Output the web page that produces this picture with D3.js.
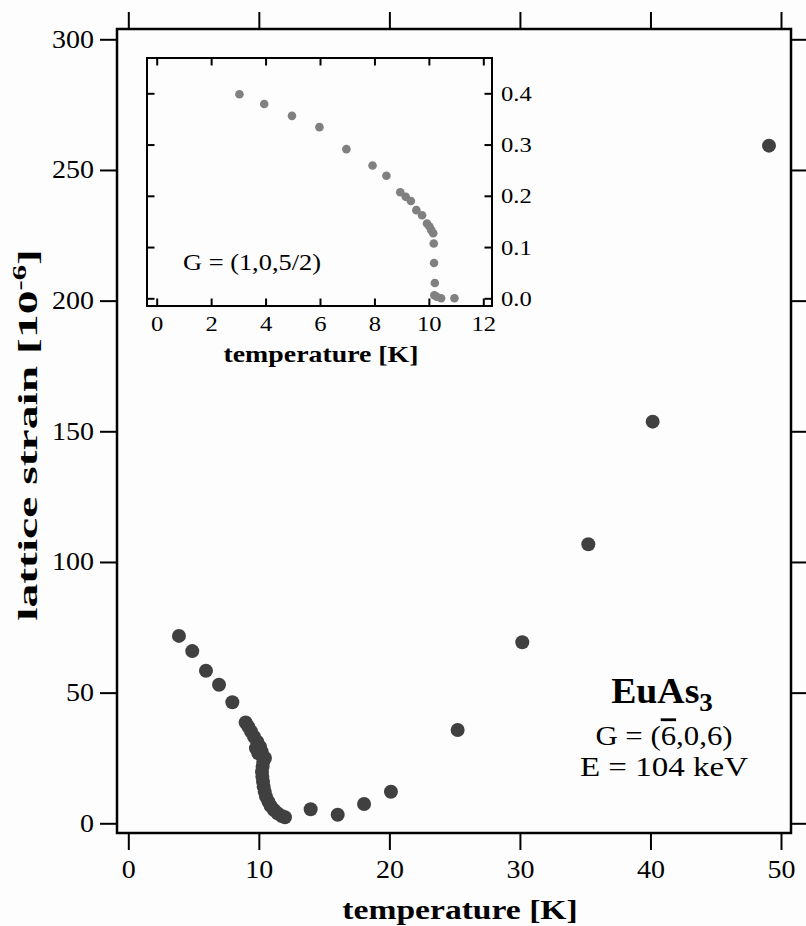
<!DOCTYPE html>
<html>
<head>
<meta charset="utf-8">
<script src="https://cdn.jsdelivr.net/npm/d3@7"></script>
<style>
  html, body { margin: 0; padding: 0; background: #fdfdfd; }
  svg { display: block; }
  text { font-family: "Liberation Serif", "Times New Roman", serif; fill: #000; }
</style>
</head>
<body>
<svg id="chart" width="806" height="926"></svg>
<script>
// ---- Main data: EuAs3, G = (-6,0,6), E = 104 keV ----
const mainTemperature = [
  3.88, 4.90, 5.95, 6.95, 7.97,
  8.99, 9.19, 9.40, 9.63, 9.78, 9.88, 9.96, 10.09, 10.22, 10.29, 10.34, 10.47,
  10.29, 10.24, 10.27, 10.32, 10.37, 10.45, 10.55, 10.73, 10.91, 11.16, 11.44, 11.75, 12.0,
  13.97, 16.04, 18.06, 20.12, 25.23, 30.18, 35.24, 40.17, 49.08
];
const mainStrain = [
  71.7, 65.9, 58.4, 53.0, 46.3,
  38.6, 37.0, 35.1, 33.1, 28.7, 31.2, 26.8, 29.3, 27.4, 25.5, 23.6, 25.0,
  21.7, 19.7, 17.8, 15.9, 14.0, 12.1, 10.2, 8.3, 6.6, 5.1, 3.8, 2.8, 2.3,
  5.4, 3.3, 7.4, 12.1, 35.7, 69.3, 106.8, 153.7, 259.3
];
const mainXTicks = [0, 10, 20, 30, 40, 50];
const mainYTicks = [0, 50, 100, 150, 200, 250, 300];

// ---- Inset data: G = (1,0,5/2) ----
const insetTemperature = [
  3.04, 3.95, 4.97, 5.98, 6.97, 7.93, 8.44, 8.95, 9.15, 9.34, 9.54, 9.75,
  9.93, 10.02, 10.09, 10.16, 10.18, 10.19, 10.22, 10.20, 10.29, 10.45, 10.94
];
const insetStrain = [
  0.398, 0.379, 0.356, 0.334, 0.291, 0.259, 0.239, 0.207, 0.198, 0.190, 0.172, 0.162,
  0.146, 0.140, 0.133, 0.127, 0.107, 0.069, 0.030, 0.006, 0.003, 0.000, 0.000
];
const insetXTicks = [0, 2, 4, 6, 8, 10, 12];
const insetYTicks = [0.0, 0.1, 0.2, 0.3, 0.4];

const svg = d3.select("#chart");

// stretch text horizontally around its anchor x
function stretch(sel, s) {
  sel.each(function () {
    const t = d3.select(this);
    const x0 = +t.attr("x") || 0;
    const prev = t.attr("transform") || "";
    t.attr("transform", `${prev} translate(${x0 * (1 - s)},0) scale(${s},1)`);
  });
}

// ---------- Main plot ----------
const M = { left: 117, right: 791, top: 29, bottom: 833 };
const x = d3.scaleLinear().domain([0, 50]).range([128.3, 781]);
const y = d3.scaleLinear().domain([0, 300]).range([823.3, 39.3]);

const main = svg.append("g");

const tickLen = 17;
const axB = main.append("g").attr("transform", `translate(0,${M.bottom})`)
  .call(d3.axisBottom(x).tickValues(mainXTicks).tickSize(tickLen).tickPadding(10).tickFormat(d3.format("d")));
const axT = main.append("g").attr("transform", `translate(0,${M.top})`)
  .call(d3.axisTop(x).tickValues(mainXTicks).tickSize(tickLen).tickFormat(""));
const axL = main.append("g").attr("transform", `translate(${M.left},0)`)
  .call(d3.axisLeft(y).tickValues(mainYTicks).tickSize(tickLen).tickPadding(6).tickFormat(d3.format("d")));
const axR = main.append("g").attr("transform", `translate(${M.right},0)`)
  .call(d3.axisRight(y).tickValues(mainYTicks).tickSize(tickLen).tickFormat(""));
[axB, axT, axL, axR].forEach(a => {
  a.select(".domain").remove();
  a.selectAll(".tick line").attr("stroke", "#000").attr("stroke-width", 2);
  a.selectAll(".tick text").attr("font-size", 25).attr("font-family", "Liberation Serif").attr("fill", "#000");
});
stretch(axB.selectAll(".tick text"), 1.12);
stretch(axL.selectAll(".tick text"), 1.12);

main.append("rect")
  .attr("x", M.left).attr("y", M.top)
  .attr("width", M.right - M.left).attr("height", M.bottom - M.top)
  .attr("fill", "none").attr("stroke", "#000").attr("stroke-width", 2.5);

main.append("g").selectAll("circle")
  .data(mainTemperature.map((t, i) => [t, mainStrain[i]]))
  .join("circle")
  .attr("cx", d => x(d[0])).attr("cy", d => y(d[1]))
  .attr("r", 7).attr("fill", "#404040");

// axis titles
const xt = main.append("text")
  .attr("x", 460).attr("y", 919)
  .attr("text-anchor", "middle").attr("font-weight", "bold").attr("font-size", 28)
  .text("temperature [K]");
stretch(xt, 1.2);

const yt = main.append("text")
  .attr("transform", `translate(37,${(M.top + M.bottom) / 2 + 4}) rotate(-90) scale(1.7,1)`)
  .attr("text-anchor", "middle").attr("font-weight", "bold").attr("font-size", 28);
yt.append("tspan").text("lattice strain [10");
yt.append("tspan").attr("dy", -11).attr("font-size", 18).text("-6");
yt.append("tspan").attr("dy", 11).text("]");

// annotation
const ann = main.append("g");
const eu = ann.append("text").attr("x", 662).attr("y", 703)
  .attr("text-anchor", "middle").attr("font-weight", "bold").attr("font-size", 35);
eu.append("tspan").text("EuAs");
eu.append("tspan").attr("dy", 8).attr("font-size", 25).text("3");
stretch(eu, 1.08);
const gt = ann.append("text").attr("x", 664).attr("y", 745)
  .attr("text-anchor", "middle").attr("font-size", 28);
gt.append("tspan").text("G = (");
gt.append("tspan").attr("text-decoration", "overline").text("6");
gt.append("tspan").text(",0,6)");
stretch(gt, 1.1);
const et = ann.append("text").attr("x", 664).attr("y", 776)
  .attr("text-anchor", "middle").attr("font-size", 28)
  .text("E = 104 keV");
stretch(et, 1.18);

// ---------- Inset ----------
const I = { left: 147, right: 492, top: 58, bottom: 306 };
const xi = d3.scaleLinear().domain([0, 12]).range([156.7, 483.3]);
const yi = d3.scaleLinear().domain([0, 0.4]).range([298.3, 93.3]);
const inset = svg.append("g");
inset.append("rect")
  .attr("x", I.left).attr("y", I.top)
  .attr("width", I.right - I.left).attr("height", I.bottom - I.top)
  .attr("fill", "#fdfdfd").attr("stroke", "none");

const iTick = -7.5;
const iB = inset.append("g").attr("transform", `translate(0,${I.bottom})`)
  .call(d3.axisBottom(xi).tickValues(insetXTicks).tickSize(iTick).tickPadding(9).tickFormat(d3.format("d")));
const iT = inset.append("g").attr("transform", `translate(0,${I.top})`)
  .call(d3.axisTop(xi).tickValues(insetXTicks).tickSize(iTick).tickFormat(""));
const iL = inset.append("g").attr("transform", `translate(${I.left},0)`)
  .call(d3.axisLeft(yi).tickValues(insetYTicks).tickSize(iTick).tickFormat(""));
const iR = inset.append("g").attr("transform", `translate(${I.right},0)`)
  .call(d3.axisRight(yi).tickValues(insetYTicks).tickSize(iTick).tickPadding(9).tickFormat(d3.format(".1f")));
[iB, iT, iL, iR].forEach(a => {
  a.select(".domain").remove();
  a.selectAll(".tick line").attr("stroke", "#000").attr("stroke-width", 2);
  a.selectAll(".tick text").attr("font-size", 22).attr("font-family", "Liberation Serif").attr("fill", "#000");
});
stretch(iB.selectAll(".tick text"), 1.12);
stretch(iR.selectAll(".tick text"), 1.12);
inset.append("rect")
  .attr("x", I.left).attr("y", I.top)
  .attr("width", I.right - I.left).attr("height", I.bottom - I.top)
  .attr("fill", "none").attr("stroke", "#000").attr("stroke-width", 2);

inset.append("g").selectAll("circle")
  .data(insetTemperature.map((t, i) => [t, insetStrain[i]]))
  .join("circle")
  .attr("cx", d => xi(d[0])).attr("cy", d => yi(d[1]))
  .attr("r", 4.3).attr("fill", "#808080");

const gi = inset.append("text").attr("x", 183).attr("y", 270)
  .attr("font-size", 24).text("G = (1,0,5/2)");
stretch(gi, 1.1);

const it = inset.append("text")
  .attr("x", 321).attr("y", 362)
  .attr("text-anchor", "middle").attr("font-weight", "bold").attr("font-size", 24)
  .text("temperature [K]");
stretch(it, 1.16);
</script>
</body>
</html>
